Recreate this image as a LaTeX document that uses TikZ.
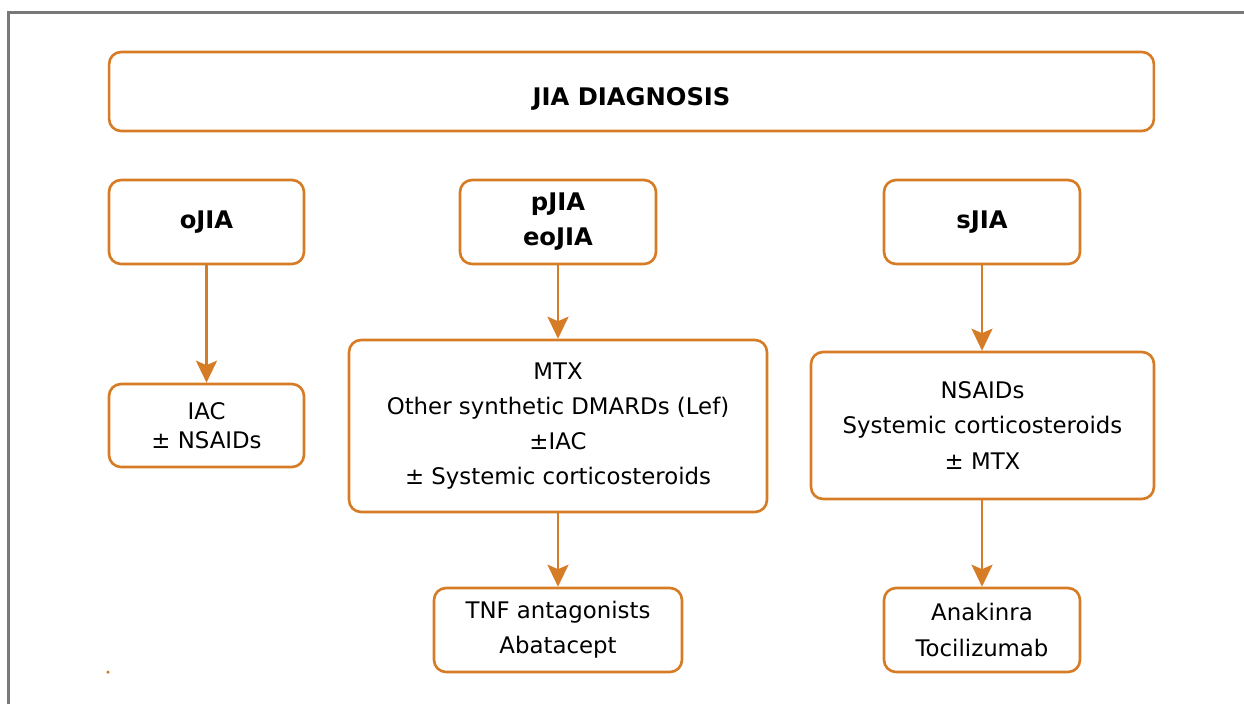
\documentclass[tikz,border=0pt]{standalone}
\usepackage{fontspec}
\setmainfont{DejaVu Sans}
\usetikzlibrary{arrows.meta}
\definecolor{jiaorange}{RGB}{214,124,38}
\definecolor{framegray}{RGB}{120,120,120}

\begin{document}
\begin{tikzpicture}[x=0.02cm,y=-0.02cm]
	\tikzset{>={Stealth[length=0.44cm,width=0.42cm,inset=0.09cm]}}
	\tikzset{box/.style={draw=jiaorange, line width=1.5pt, rounded corners=0.24cm, align=center, inner sep=0pt, font=\fontsize{13}{20}\selectfont}}
	\tikzset{head/.style={box, font=\fontsize{13.8}{20}\selectfont\bfseries}}
	\tikzset{flow/.style={->, jiaorange, line width=1.5pt}}
	\useasboundingbox (0,0) rectangle (1244,704);
	\draw[framegray, line width=0.05cm] (8.5,704) |- (1244,12.5);

	% diagnosis and subtypes
	\node[head, minimum width=20.9cm, minimum height=1.58cm, text height=0.54cm, text depth=0cm] (diag) at (631.5,91.5) {JIA DIAGNOSIS};
	\node[head, minimum width=3.9cm, minimum height=1.68cm] (ojia) at (206.5,222) {oJIA};
	\node[head, minimum width=3.92cm, minimum height=1.68cm] (pjia) at (558,222) {pJIA\\eoJIA};
	\node[head, minimum width=3.92cm, minimum height=1.68cm] (sjia) at (982,222) {sJIA};

	% first line treatment
	\node[box, minimum width=3.9cm, minimum height=1.66cm, font=\fontsize{13}{16.5}\selectfont] (iac) at (206.5,425.5) {IAC\\± NSAIDs};
	\node[box, minimum width=8.36cm, minimum height=3.44cm] (mtx) at (558,426) {MTX\\Other synthetic DMARDs (Lef)\\±IAC\\± Systemic corticosteroids};
	\node[box, minimum width=6.86cm, minimum height=2.94cm] (nsaids) at (982.5,425.5) {NSAIDs\\Systemic corticosteroids\\± MTX};

	% biologics
	\node[box, minimum width=4.96cm, minimum height=1.68cm] (tnf) at (558,630) {TNF antagonists\\Abatacept};
	\node[box, minimum width=3.92cm, minimum height=1.68cm] (ana) at (982,630) {Anakinra\\Tocilizumab};

	\draw[flow] (ojia) -- (iac);
	\draw[flow] (pjia) -- (mtx);
	\draw[flow] (mtx) -- (tnf);
	\draw[flow] (sjia) -- (nsaids.north -| sjia);
	\draw[flow] (nsaids.south -| ana) -- (ana);

	\fill[jiaorange] (108,672) circle (0.035cm);
\end{tikzpicture}
\end{document}
